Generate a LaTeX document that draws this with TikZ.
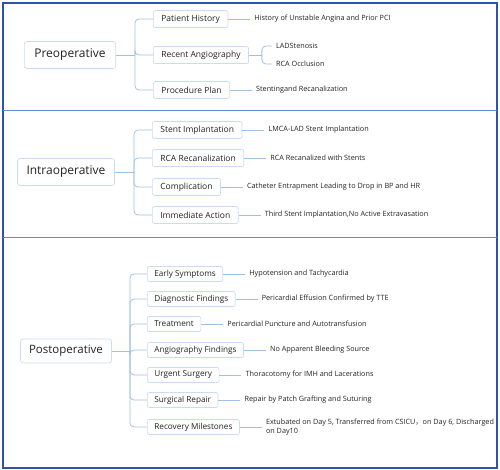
\documentclass[tikz,border=0pt]{standalone}
\usepackage{fontspec}
\setmainfont{Open Sans}
\newfontfamily\cjk{Noto Sans CJK SC}
\usetikzlibrary{positioning}
\definecolor{frameblue}{RGB}{47,84,165}
\definecolor{sepblue}{RGB}{100,138,210}
\definecolor{linkblue}{RGB}{160,192,228}
\definecolor{boxline}{RGB}{200,220,242}
\definecolor{ink}{RGB}{35,35,35}

\begin{document}
\begin{tikzpicture}[
  x=1pt, y=-1pt,
  phase/.style={draw=boxline, line width=0.7pt, rounded corners=2.5pt, fill=white, text=ink,
    font=\fontsize{12}{14}\selectfont, minimum height=27pt, inner xsep=10pt},
  item/.style={draw=boxline, line width=0.7pt, rounded corners=2pt, fill=white, text=ink,
    font=\fontsize{8.5}{10}\selectfont, minimum height=17pt, inner xsep=8pt, anchor=west},
  small/.style={font=\fontsize{8.2}{10}\selectfont, minimum height=15pt, inner xsep=7pt},
  leaf/.style={font=\fontsize{7.25}{8.5}\selectfont, text=ink, inner xsep=4pt, inner ysep=1pt, align=left},
  link/.style={draw=linkblue, line width=0.8pt, rounded corners=4pt}
]
\useasboundingbox (0,0) rectangle (500,470);
\draw[frameblue, line width=2.5pt] (3,3) rectangle (497,468);
\draw[sepblue, line width=1.2pt] (3,110.5) -- (497,110.5);
\draw[sepblue, line width=1.2pt] (3,237.5) -- (497,237.5);

% preoperative
\node[phase] (pre) at (70,55) {Preoperative};
\coordinate (preb) at (135,55);
\node[item] (hist) at (153,19) {Patient History};
\node[item] (angio) at (153,55) {Recent Angiography};
\node[item] (plan) at (153,90) {Procedure Plan};
\node[leaf, right=22pt of hist] (histL) {History of Unstable Angina and Prior PCI};
\coordinate[right=13pt of angio] (angb);
\node[leaf, right=23pt of angio, yshift=9pt] (lad) {LADStenosis};
\node[leaf, right=23pt of angio, yshift=-9pt] (rca) {RCA Occlusion};
\node[leaf, right=22pt of plan] (planL) {Stentingand Recanalization};

\draw[link] (pre.east) -- (preb);
\foreach \n in {hist,angio,plan} \draw[link] (preb) |- (\n.west);
\draw[link] (hist.east) -- (histL.west);
\draw[link] (angio.east) -- (angb);
\draw[link] (angb) |- (lad.west);
\draw[link] (angb) |- (rca.west);
\draw[link] (plan.east) -- (planL.west);

% intraoperative
\node[phase, inner xsep=9pt] (intra) at (66,172) {Intraoperative};
\coordinate (intrab) at (134,172);
\node[item] (stent) at (152,130) {Stent Implantation};
\node[item] (recan) at (152,158) {RCA Recanalization};
\node[item] (compl) at (152,187) {Complication};
\node[item] (act) at (152,215) {Immediate Action};
\node[leaf, right=22pt of stent] (stentL) {LMCA-LAD Stent Implantation};
\node[leaf, right=22pt of recan] (recanL) {RCA Recanalized with Stents};
\node[leaf, right=22pt of compl] (complL) {Catheter Entrapment Leading to Drop in BP and HR};
\node[leaf, right=22pt of act] (actL) {Third Stent Implantation,No Active Extravasation};

\draw[link] (intra.east) -- (intrab);
\foreach \n in {stent,recan,compl,act} {
  \draw[link] (intrab) |- (\n.west);
  \draw[link] (\n.east) -- (\n L.west);
}

% postoperative
\node[phase, font=\fontsize{11.5}{13}\selectfont, minimum height=24pt, inner xsep=8.5pt] (post) at (66,351) {Postoperative};
\coordinate (postb) at (130,351);
\node[item, small] (early) at (147,274) {Early Symptoms};
\node[item, small] (diag) at (147,299) {Diagnostic Findings};
\node[item, small] (treat) at (147,324) {Treatment};
\node[item, small] (angf) at (147,350) {Angiography Findings};
\node[item, small] (urg) at (147,375) {Urgent Surgery};
\node[item, small] (rep) at (147,400) {Surgical Repair};
\node[item, small] (rec) at (147,427) {Recovery Milestones};
\node[leaf, right=22pt of early] (earlyL) {Hypotension and Tachycardia};
\node[leaf, right=22pt of diag] (diagL) {Pericardial Effusion Confirmed by TTE};
\node[leaf, right=22pt of treat] (treatL) {Pericardial Puncture and Autotransfusion};
\node[leaf, right=22pt of angf] (angfL) {No Apparent Bleeding Source};
\node[leaf, right=22pt of urg] (urgL) {Thoracotomy for IMH and Lacerations};
\node[leaf, right=22pt of rep] (repL) {Repair by Patch Grafting and Suturing};
\node[leaf, right=22pt of rec] (recL) {Extubated on Day 5, Transferred from CSICU{\cjk ，}on Day 6, Discharged\\on Day10};

\draw[link] (post.east) -- (postb);
\foreach \n in {early,diag,treat,angf,urg,rep,rec} {
  \draw[link] (postb) |- (\n.west);
  \draw[link] (\n.east) -- (\n L.west);
}
\end{tikzpicture}
\end{document}
